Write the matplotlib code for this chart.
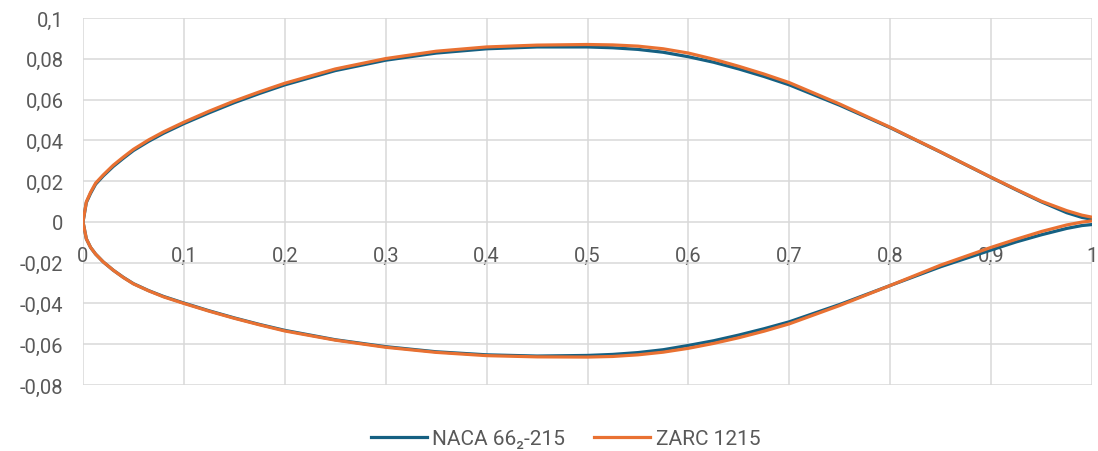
import matplotlib.pyplot as plt
from matplotlib.ticker import FuncFormatter

# chord stations (same for both profiles)
x_st = [0.0, 0.0033, 0.0075, 0.0125, 0.02, 0.03, 0.04, 0.05, 0.065, 0.08,
        0.1, 0.125, 0.15, 0.175, 0.2, 0.25, 0.3, 0.35, 0.4, 0.45,
        0.5, 0.525, 0.55, 0.575, 0.6, 0.625, 0.65, 0.675, 0.7, 0.75,
        0.8, 0.85, 0.9, 0.925, 0.95, 0.975, 0.99, 1.0]

naca_upper = [0.0, 0.0095, 0.0140, 0.0185, 0.0225, 0.0272, 0.0312, 0.0350, 0.0395, 0.0435,
              0.0482, 0.0535, 0.0585, 0.0630, 0.0672, 0.0742, 0.0793, 0.0828, 0.0849, 0.0858,
              0.0858, 0.0854, 0.0846, 0.0832, 0.0810, 0.0783, 0.0750, 0.0713, 0.0672, 0.0572,
              0.0462, 0.0342, 0.0218, 0.0157, 0.0098, 0.0045, 0.0022, 0.0013]
naca_lower = [0.0, -0.0083, -0.0125, -0.0158, -0.0196, -0.0237, -0.0272, -0.0303, -0.0337, -0.0366,
              -0.0398, -0.0436, -0.0471, -0.0503, -0.0532, -0.0578, -0.0612, -0.0637, -0.0652, -0.0658,
              -0.0655, -0.0650, -0.0641, -0.0627, -0.0606, -0.0583, -0.0555, -0.0524, -0.0490, -0.0405,
              -0.0312, -0.0220, -0.0138, -0.0098, -0.0063, -0.0032, -0.0018, -0.0013]

zarc_upper = [0.0, 0.0098, 0.0145, 0.0190, 0.0230, 0.0278, 0.0318, 0.0356, 0.0402, 0.0442,
              0.0489, 0.0543, 0.0593, 0.0638, 0.0680, 0.0750, 0.0801, 0.0837, 0.0858, 0.0867,
              0.0870, 0.0868, 0.0862, 0.0849, 0.0828, 0.0798, 0.0763, 0.0725, 0.0683, 0.0578,
              0.0464, 0.0343, 0.0219, 0.0159, 0.0101, 0.0055, 0.0033, 0.0023]
zarc_lower = [0.0, -0.0083, -0.0125, -0.0158, -0.0196, -0.0237, -0.0273, -0.0304, -0.0338, -0.0368,
              -0.0400, -0.0438, -0.0473, -0.0505, -0.0535, -0.0580, -0.0615, -0.0640, -0.0656, -0.0662,
              -0.0663, -0.0660, -0.0652, -0.0639, -0.0620, -0.0596, -0.0568, -0.0536, -0.0500, -0.0410,
              -0.0312, -0.0212, -0.0125, -0.0085, -0.0047, -0.0015, -0.0001, 0.0005]

x_ticks = [0, 0.1, 0.2, 0.3, 0.4, 0.5, 0.6, 0.7, 0.8, 0.9, 1]
y_ticks = [-0.08, -0.06, -0.04, -0.02, 0, 0.02, 0.04, 0.06, 0.08, 0.1]

plt.rcParams['font.family'] = ['Roboto', 'DejaVu Sans']

blue = '#156082'
orange = '#E97132'
grid_c = '#d9d9d9'
txt_c = '#595959'

def loop(xs, up, lo):
    # closed outline: upper surface TE->LE, then lower LE->TE
    return list(reversed(xs)) + xs[1:], list(reversed(up)) + lo[1:]

fig = plt.figure(figsize=(10.98, 4.52), dpi=100)
ax = fig.add_axes([83 / 1098, 1 - 386 / 452, (1092 - 83) / 1098, (386 - 19) / 452])

nx, ny = loop(x_st, naca_upper, naca_lower)
zx, zy = loop(x_st, zarc_upper, zarc_lower)
ax.plot(nx, ny, color=blue, lw=2.3, label='NACA 66\u2082-215', solid_joinstyle='round', zorder=3)
ax.plot(zx, zy, color=orange, lw=2.3, label='ZARC 1215', solid_joinstyle='round', zorder=4)

ax.set_xlim(0, 1)
ax.set_ylim(-0.08, 0.1)
ax.set_xticks(x_ticks)
ax.set_yticks(y_ticks)

fmt = FuncFormatter(lambda v, p: ('%g' % round(v, 3)).replace('.', ','))
ax.xaxis.set_major_formatter(fmt)
ax.yaxis.set_major_formatter(fmt)

ax.grid(True, color=grid_c, lw=1.1)
ax.set_axisbelow(True)
for s in ax.spines.values():
    s.set_visible(False)
ax.spines['bottom'].set_position(('data', 0))

ax.tick_params(axis='both', length=0, labelsize=14.5, labelcolor=txt_c)
ax.tick_params(axis='x', pad=17)
ax.tick_params(axis='y', pad=14)

fig.legend(loc='lower center', bbox_to_anchor=(0.515, -0.035), ncol=2, frameon=False,
           fontsize=15, labelcolor=txt_c, handlelength=2.7, columnspacing=1.4,
           handletextpad=0.25)

fig.savefig('out.png', dpi=100)
